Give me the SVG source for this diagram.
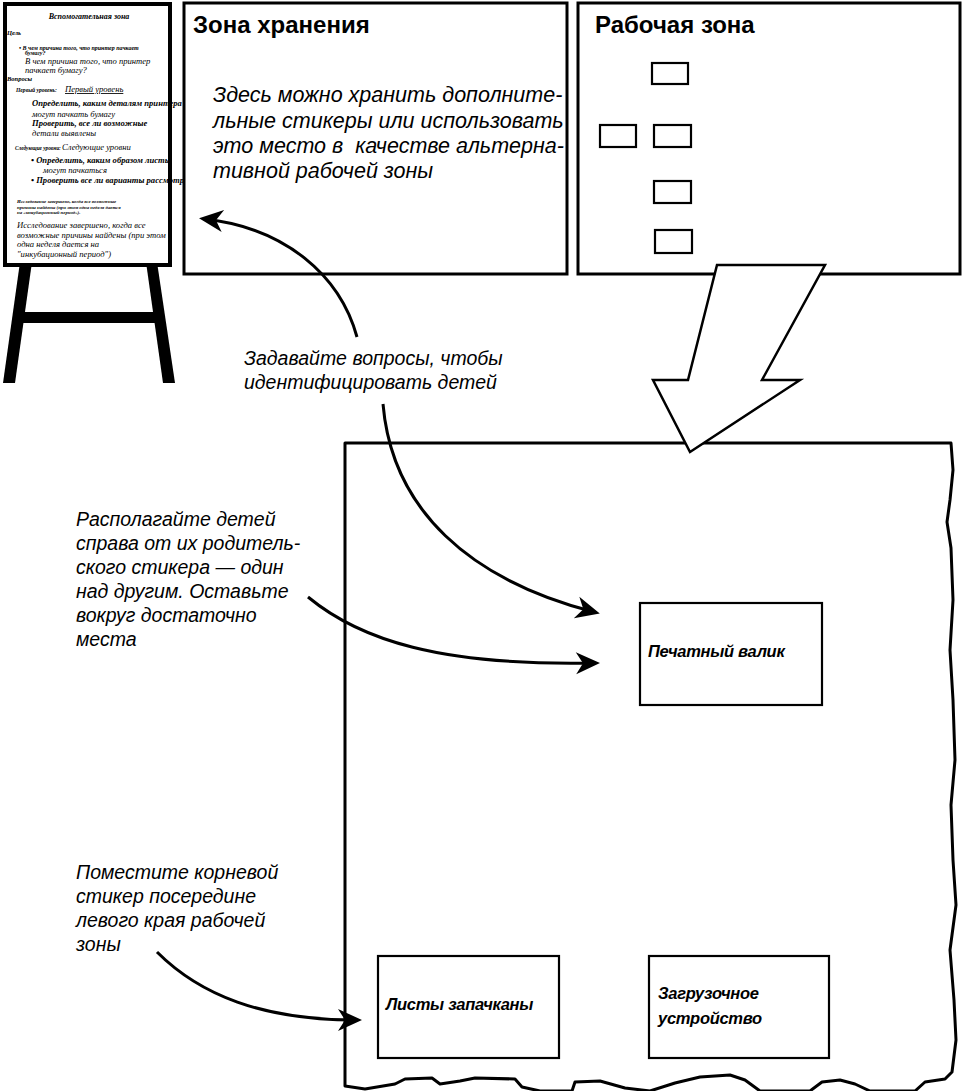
<svg xmlns="http://www.w3.org/2000/svg" width="965" height="1091" viewBox="0 0 965 1091">
  <style>
    .box { fill: #fff; stroke: #000; stroke-width: 3; }
    .thin { fill: #fff; stroke: #000; stroke-width: 2.2; }
    .title { font-family: "Liberation Sans", Arial, sans-serif; font-weight: bold; font-size: 24px; fill: #000; }
    .note { font-family: "Liberation Sans", Arial, sans-serif; font-style: italic; font-size: 19.5px; fill: #000; }
    .big { font-size: 21.5px; }
    .card { font-family: "Liberation Sans", Arial, sans-serif; font-style: italic; font-weight: bold; font-size: 16.5px; fill: #000; letter-spacing: -0.3px; }
    .link { fill: none; stroke: #000; stroke-width: 3; marker-end: url(#ah); }
    .ser { font-family: "Liberation Serif", "Times New Roman", serif; font-style: italic; font-size: 8.6px; fill: #000; }
    .serb { font-family: "Liberation Serif", "Times New Roman", serif; font-style: italic; font-weight: bold; fill: #000; }
    .leg { fill: #000; }
  </style>
  <defs>
    <marker id="ah" viewBox="-19 -12 26 24" refX="0" refY="0" markerWidth="26" markerHeight="24" orient="auto" markerUnits="userSpaceOnUse">
      <path d="M6,0 L-18,-11 L-11,0 L-18,11 Z" fill="#000"/>
    </marker>
  </defs>

  <rect width="965" height="1091" fill="#fff"/>

  <!-- Easel with the helper board -->
  <g id="easel">
    <polygon class="leg" points="20,262 32,262 15,383 3,383"/>
    <polygon class="leg" points="146,262 157,262 175,383 163,383"/>
    <rect class="leg" x="22" y="312" width="136" height="11"/>
    <rect x="5" y="4" width="165" height="261" fill="#fff" stroke="#000" stroke-width="4"/>
    <text class="serb" x="89" y="19" font-size="8" text-anchor="middle">Вспомогательная зона</text>
    <text class="serb" x="7" y="35" font-size="6.5">Цель</text>
    <text class="serb" x="19" y="50" font-size="6">• В чем причина того, что принтер пачкает</text>
    <text class="serb" x="25" y="55" font-size="6">бумагу?</text>
    <text class="ser" x="25" y="64">В чем причина того, что принтер</text>
    <text class="ser" x="25" y="73">пачкает бумагу?</text>
    <text class="serb" x="7" y="81" font-size="6.5">Вопросы</text>
    <text class="serb" x="16" y="92" font-size="5.6">Первый уровень:</text>
    <text class="ser" x="65" y="92" text-decoration="underline">Первый уровень</text>
    <text class="serb" x="32" y="106" font-size="8.6">Определить, каким деталям принтера</text>
    <text class="ser" x="32" y="117">могут пачкать бумагу</text>
    <text class="serb" x="32" y="126" font-size="8.6">Проверить, все ли возможные</text>
    <text class="ser" x="32" y="136">детали выявлены</text>
    <text class="serb" x="15" y="150" font-size="5.3">Следующие уровни:</text>
    <text class="ser" x="62" y="150">Следующие уровни</text>
    <text class="serb" x="31" y="163" font-size="8.6">•  Определить, каким образом листы</text>
    <text class="ser" x="43" y="173">могут пачкаться</text>
    <text class="serb" x="31" y="183" font-size="8.6">•  Проверить все ли варианты рассмотрены</text>
    <text class="serb" x="17" y="203" font-size="4.8">Исследование завершено, когда все возможные</text>
    <text class="serb" x="17" y="208.5" font-size="4.8">причины найдены (при этом одна неделя дается</text>
    <text class="serb" x="17" y="214" font-size="4.8">на «инкубационный период»).</text>
    <text class="ser" x="17" y="228">Исследование завершено, когда все</text>
    <text class="ser" x="17" y="237.5">возможные причины найдены (при этом</text>
    <text class="ser" x="17" y="247">одна неделя дается на</text>
    <text class="ser" x="17" y="257">"инкубационный период")</text>
  </g>

  <!-- Storage zone -->
  <g id="storage">
    <rect class="box" x="184" y="3" width="383" height="271"/>
    <text class="title" x="193" y="33">Зона хранения</text>
    <text class="note big" x="213" y="102">Здесь можно хранить дополните-</text>
    <text class="note big" x="213" y="128">льные стикеры или использовать</text>
    <text class="note big" x="213" y="153" xml:space="preserve">это место в  качестве альтерна-</text>
    <text class="note big" x="213" y="178">тивной рабочей зоны</text>
  </g>

  <!-- Working zone overview -->
  <g id="workzone">
    <rect class="box" x="578" y="3" width="382" height="271"/>
    <text class="title" x="595" y="33">Рабочая зона</text>
    <rect class="thin" x="652" y="63" width="36" height="21"/>
    <rect class="thin" x="600" y="125" width="36" height="22"/>
    <rect class="thin" x="654" y="125" width="37" height="22"/>
    <rect class="thin" x="654" y="181" width="37" height="22"/>
    <rect class="thin" x="655" y="230" width="37" height="23"/>
  </g>

  <!-- Enlarged working area with torn edges -->
  <g id="workarea">
    <path d="M345,1086 L345,443 L951,443 L953,470 L950,500 L947,522 L951,548 L953,600 L950,650 L953,700 L955,760 L951,805 L953,860 L956,905 L950,950 L954,1000 L956,1040 L952,1072 L945,1079 L925,1082 L915,1091 L870,1091 L855,1084 L840,1080 L822,1082 L810,1091 L760,1091 L745,1080 L730,1075 L700,1077 L675,1083 L650,1091 L625,1088 L600,1081 L575,1082 L572,1091 L540,1091 L522,1087 L515,1079 L475,1078 L460,1081 L440,1084 L432,1078 L405,1079 L395,1084 L365,1089 Z" fill="#fff" stroke="#000" stroke-width="3" stroke-linejoin="round"/>
  </g>

  <!-- Block arrow from the overview into the enlarged area -->
  <g id="zoom-arrow">
    <polygon points="717,265 825,265 762,380 800,380 690,452 653,380 688,380" fill="#fff" stroke="#000" stroke-width="2.5" stroke-linejoin="miter"/>
  </g>

  <g id="node-platen">
    <rect class="thin" x="640" y="603" width="182" height="102"/>
    <text class="card" x="648" y="657">Печатный валик</text>
  </g>
  <g id="node-root">
    <rect class="thin" x="378" y="956" width="181" height="102"/>
    <text class="card" x="386" y="1010">Листы запачканы</text>
  </g>
  <g id="node-feeder">
    <rect class="thin" x="649" y="956" width="180" height="102"/>
    <text class="card" x="658" y="999">Загрузочное</text>
    <text class="card" x="658" y="1024">устройство</text>
  </g>

  <!-- Notes -->
  <g id="note-questions">
    <text class="note" x="244" y="365" font-size="20.5">Задавайте вопросы, чтобы</text>
    <text class="note" x="244" y="389" font-size="20.5">идентифицировать детей</text>
  </g>
  <g id="note-place">
    <text class="note" x="76" y="526">Располагайте детей</text>
    <text class="note" x="76" y="550">справа от их родитель-</text>
    <text class="note" x="76" y="574">ского стикера — один</text>
    <text class="note" x="76" y="598">над другим. Оставьте</text>
    <text class="note" x="76" y="622">вокруг достаточно</text>
    <text class="note" x="76" y="646">места</text>
  </g>
  <g id="note-root">
    <text class="note" x="76" y="879">Поместите корневой</text>
    <text class="note" x="76" y="903">стикер посередине</text>
    <text class="note" x="76" y="927">левого края рабочей</text>
    <text class="note" x="76" y="951">зоны</text>
  </g>

  <!-- Connectors -->
  <g id="connectors">
    <path class="link" d="M357,337 C340,275 285,228 205,219"/>
    <path class="link" d="M383,404 C392,510 470,580 594,612"/>
    <path class="link" d="M308,597 C360,640 440,666 594,663"/>
    <path class="link" d="M157,952 C200,995 262,1020 356,1020"/>
  </g>
</svg>
